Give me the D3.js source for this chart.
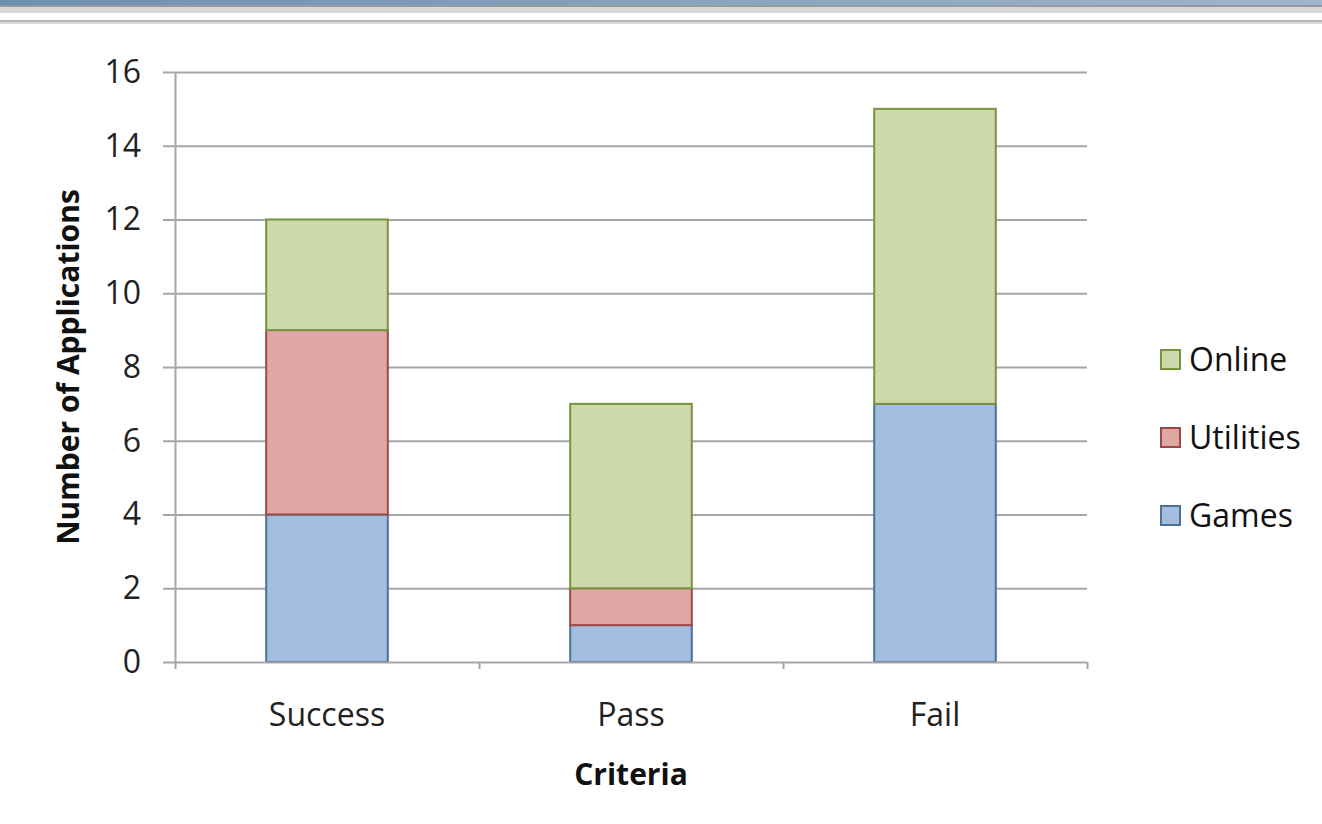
<!DOCTYPE html>
<html>
<meta charset="utf-8">
<head>
<script src="https://cdnjs.cloudflare.com/ajax/libs/d3/7.8.5/d3.min.js"></script>
</head>
<style>
body { margin: 0; background: #fff; font-family: "Open Sans", "Liberation Sans", sans-serif; }
.axis .domain, .axis .tick line { stroke: #a6a6a6; stroke-width: 2px; }
.axis .tick text { font-size: 32px; fill: #222; font-family: "Open Sans", sans-serif; }
.grid .tick line { stroke: #a6a6a6; stroke-width: 2px; }
.grid .domain { display: none; }
.title { font-size: 30px; font-weight: bold; fill: #111; }
.legend text { font-size: 32px; fill: #111; }
</style>
<body>
<svg id="canvas" width="1322" height="824"></svg>
<script>
// categories along the x axis
var criteria = ["Success", "Pass", "Fail"];
// series, stacked bottom to top
var series = ["Games", "Utilities", "Online"];
var games = [4, 1, 7];
var utilities = [5, 1, 0];
var online = [3, 5, 8];
var yTicks = [0, 2, 4, 6, 8, 10, 12, 14, 16];

var fills = {Games: "#a3bedf", Utilities: "#e0a8a5", Online: "#cdd9aa"};
var strokes = {Games: "#4d7198", Utilities: "#9c4a47", Online: "#77933c"};

var rows = criteria.map(function(c, i) {
    return {name: c, Games: games[i], Utilities: utilities[i], Online: online[i]};
});

var svg = d3.select("#canvas");

// window header strip at the top
var grad = svg.append("defs").append("linearGradient").attr("id", "hdr");
grad.append("stop").attr("offset", "0%").attr("stop-color", "#6e8fae");
grad.append("stop").attr("offset", "100%").attr("stop-color", "#9fb6cc");
svg.append("rect").attr("x", 0).attr("y", 0).attr("width", 1322).attr("height", 5).attr("fill", "url(#hdr)");
svg.append("rect").attr("x", 0).attr("y", 5).attr("width", 1322).attr("height", 2).attr("fill", "#9a9a9a");
svg.append("rect").attr("x", 0).attr("y", 7).attr("width", 1322).attr("height", 6).attr("fill", "#d8d8d8");
svg.append("rect").attr("x", 0).attr("y", 20).attr("width", 1322).attr("height", 2).attr("fill", "#b5b5b5");
svg.append("rect").attr("x", 0).attr("y", 22).attr("width", 1322).attr("height", 2).attr("fill", "#dadada");

// plot area edges
var plotLeft = 175, plotRight = 1087, plotTop = 72, plotBottom = 662;

var x = d3.scaleBand().domain(criteria).range([plotLeft, plotRight]).paddingInner(0.6).paddingOuter(0.3);
var y = d3.scaleLinear().domain([0, 16]).range([plotBottom, plotTop]);

// gridlines
svg.append("g").classed("grid", true)
    .attr("transform", "translate(" + plotLeft + ",0)")
    .call(d3.axisLeft(y).tickValues(yTicks.slice(1)).tickSize(-(plotRight - plotLeft)).tickFormat(""));

var stack = d3.stack().keys(series)(rows);

svg.append("g").selectAll("g")
    .data(stack)
    .join("g")
    .attr("fill", function(d) { return fills[d.key]; })
    .attr("stroke", function(d) { return strokes[d.key]; })
    .attr("stroke-width", 2)
    .selectAll("rect")
    .data(function(d) { return d.filter(function(p) { return p[1] > p[0]; }); })
    .join("rect")
    .attr("x", function(d) { return x(d.data.name); })
    .attr("width", x.bandwidth())
    .attr("y", function(d) { return y(d[1]); })
    .attr("height", function(d) { return y(d[0]) - y(d[1]); });

// y axis
svg.append("g").classed("axis", true)
    .attr("transform", "translate(" + plotLeft + ",0)")
    .call(d3.axisLeft(y).tickValues(yTicks).tickSize(12).tickPadding(22).tickSizeOuter(0));

// x axis: ticks at band boundaries
var xb = d3.scaleLinear().domain([0, 3]).range([plotLeft, plotRight]);
svg.append("g").classed("axis", true)
    .attr("transform", "translate(0," + plotBottom + ")")
    .call(d3.axisBottom(xb).tickValues([0, 1, 2, 3]).tickSize(7).tickFormat("").tickSizeOuter(0));
svg.append("g").classed("axis", true)
    .selectAll("text")
    .data(criteria)
    .join("text")
    .attr("x", function(d) { return x(d) + x.bandwidth() / 2; })
    .attr("y", 726)
    .attr("text-anchor", "middle")
    .style("font-size", "32px")
    .style("fill", "#222")
    .text(function(d) { return d; });

// axis titles
svg.append("text").classed("title", true)
    .attr("transform", "translate(79," + (plotTop + plotBottom) / 2 + ") rotate(-90)")
    .attr("text-anchor", "middle")
    .text("Number of Applications");
svg.append("text").classed("title", true)
    .attr("x", (plotLeft + plotRight) / 2).attr("y", 785)
    .attr("text-anchor", "middle")
    .text("Criteria");

// legend
var legend = svg.append("g").classed("legend", true)
    .selectAll("g")
    .data(series.slice().reverse())
    .join("g")
    .attr("transform", function(d, i) { return "translate(1161," + (350 + i * 78) + ")"; });
legend.append("rect")
    .attr("width", 19).attr("height", 19)
    .attr("fill", function(d) { return fills[d]; })
    .attr("stroke", function(d) { return strokes[d]; })
    .attr("stroke-width", 2);
legend.append("text")
    .attr("x", 28).attr("y", 21)
    .text(function(d) { return d; });
</script>
</body>
</html>
